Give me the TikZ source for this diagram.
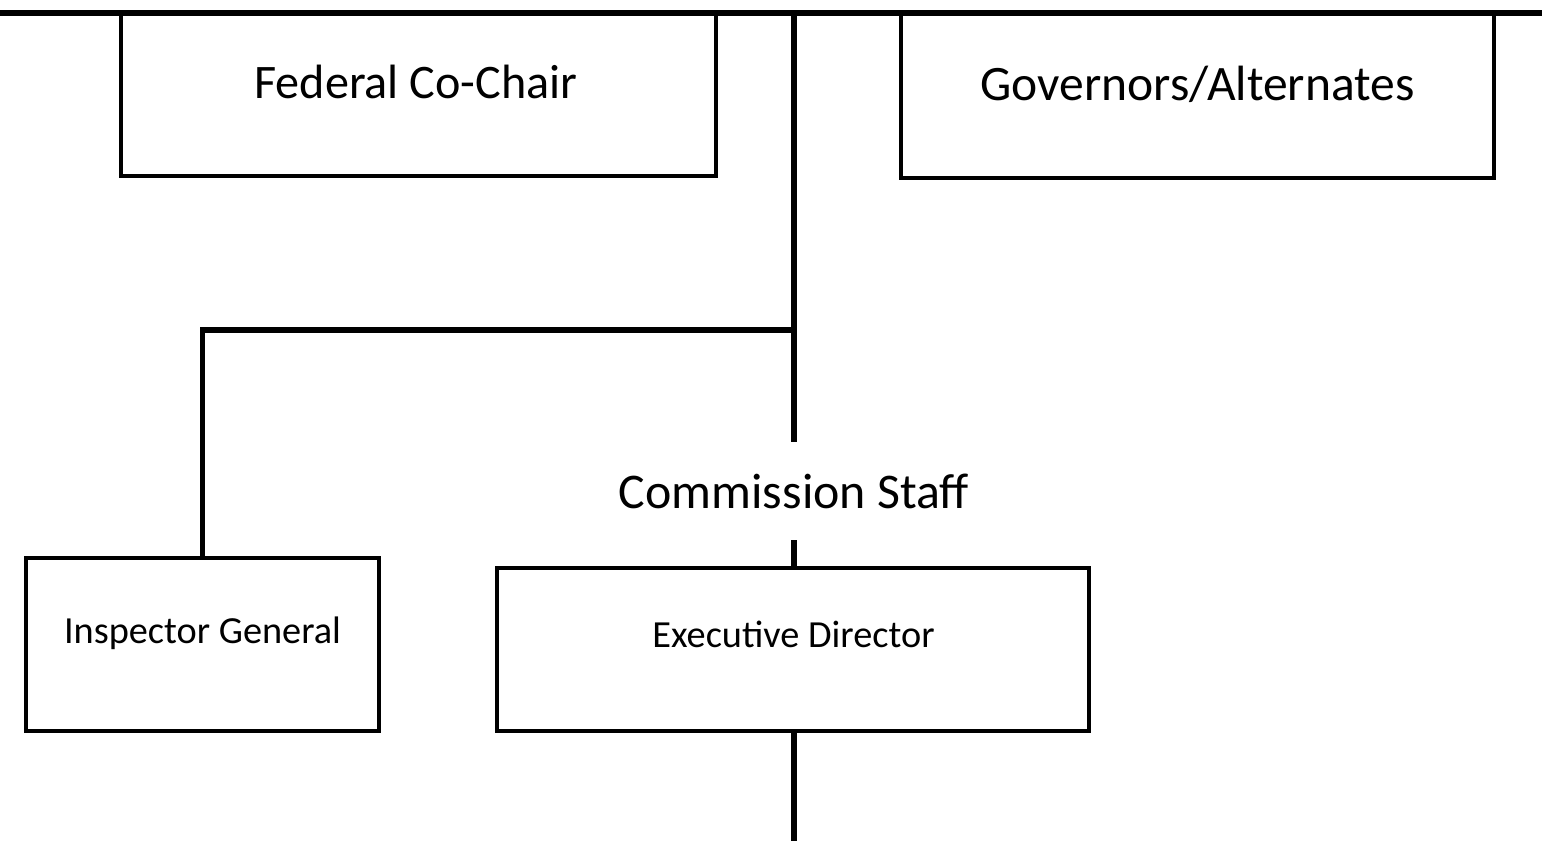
\documentclass[tikz,border=0pt]{standalone}
\usepackage{fontspec}
\setmainfont{Carlito}
\begin{document}
\begin{tikzpicture}[x=0.1mm, y=-0.1mm,
  unit/.style={draw, line width=0.45mm, inner sep=0pt},
  link/.style={line width=0.55mm},
  big/.style={font=\fontsize{13.7}{16}\selectfont, anchor=base, inner sep=0pt},
  small/.style={font=\fontsize{10.9}{13}\selectfont, anchor=base, inner sep=0pt}]
\useasboundingbox (0,0) rectangle (1542,841);

\node[unit, minimum width=59.5mm, minimum height=16.3mm] (fcc) at (418.5,94.5) {};
\node[unit, minimum width=59.3mm, minimum height=16.5mm] (gov) at (1197.5,95.5) {};
\node[unit, minimum width=35.3mm, minimum height=17.3mm] (ig) at (202.5,644.5) {};
\node[unit, minimum width=59.2mm, minimum height=16.3mm] (ed) at (793,649.5) {};

\node[big] (fcctext) at (416,98) {Federal Co-Chair};
\node[big, font=\fontsize{14.1}{17}\selectfont] (govtext) at (1197.5,100) {Governors/Alternates};
\node[small] (igtext) at (202.5,643) {Inspector General};
\node[small] (edtext) at (793.5,647) {Executive Director};
\node[font=\fontsize{14.2}{17}\selectfont, anchor=base, inner sep=3.1mm] (staff) at (794,508) {Commission Staff};

\coordinate (west) at (0,13);
\coordinate (east) at (1542,13);
\coordinate (trunk) at (794,13);
\coordinate (fork) at (794,330);
\coordinate (exit) at (794,841);

\draw[link] (west) -- (east);
\draw[link] (trunk) -- (staff);
\draw[link] (fork) -| (ig.north);
\draw[link] (staff.south) -- (staff.south |- ed.north);
\draw[link] (ed.south -| exit) -- (exit);
\end{tikzpicture}
\end{document}
